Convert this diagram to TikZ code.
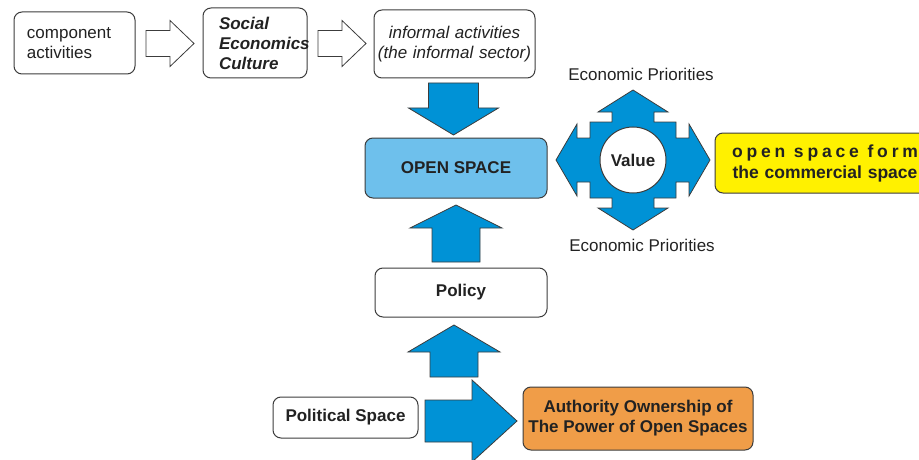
\documentclass[tikz,border=0pt]{standalone}
\usepackage{fontspec}
\setmainfont{Liberation Sans}
\usetikzlibrary{
    positioning,
    calc
}
\definecolor{arrowblue}{RGB}{0,146,214}
\definecolor{openblue}{RGB}{110,192,236}
\definecolor{boxyellow}{RGB}{255,241,0}
\definecolor{boxorange}{RGB}{240,157,72}
\definecolor{edgegray}{RGB}{60,60,60}
\definecolor{textgray}{RGB}{34,34,34}
\tikzset{%
    box/.style={%
        rectangle,
        draw=edgegray,
        line width=1pt,
        rounded corners=8pt,
        fill=white,
        text=textgray,
        inner ysep=0pt,
        outer sep=0pt,
        font=\fontsize{17}{20}\selectfont
    },
    bold box/.style={%
        box,
        font=\bfseries\fontsize{17}{20}\selectfont
    },
    hollow arrow/.style={%
        draw=edgegray,
        fill=white,
        line width=0.8pt
    },
    fat arrow/.style={%
        draw=edgegray,
        fill=arrowblue,
        line width=0.8pt
    },
    caption/.style={%
        text=textgray,
        font=\fontsize{17}{20}\selectfont
    },
}

\begin{document}
\begin{tikzpicture}[x=1pt, y=-1pt]
    \useasboundingbox (0,0) rectangle (919,460);

    % top row
    \node[box, text width=95pt, inner xsep=13pt, minimum height=62pt, align=left] (comp) at (74.5,43) {component\\activities};
    \node[bold box, text width=72pt, inner xsep=16pt, minimum height=70pt, align=left, font=\bfseries\itshape\fontsize{17}{20}\selectfont] (soc) at (255,43) {Social\\Economics\\Culture};
    \node[box, text width=155pt, inner xsep=3pt, minimum height=68pt, align=center, font=\itshape\fontsize{17}{20}\selectfont] (inf) at (454.5,44) {informal activities\\(the informal sector)};

    \draw[hollow arrow] (comp.east) ++(11,-12.5) -- ++(24,0) -- ++(0,-10) -- ++(24,23) -- ++(-24,23) -- ++(0,-10) -- ++(-24,0) -- cycle;
    \draw[hollow arrow] (soc.east) ++(11,-12.5) -- ++(24,0) -- ++(0,-10) -- ++(24,23) -- ++(-24,23) -- ++(0,-10) -- ++(-24,0) -- cycle;

    % centre column
    \node[bold box, fill=openblue, minimum width=182pt, minimum height=60pt] (open) at (456,168) {OPEN SPACE};
    \node[bold box, minimum width=172pt, minimum height=49pt] (policy) at (461,292.5) {Policy};
    \node[bold box, minimum width=145pt, minimum height=41pt] (polit) at (345.5,417.5) {Political Space};
    \node[bold box, fill=boxorange, minimum width=230pt, minimum height=63pt, align=center] (auth) at (638,418.5) {Authority Ownership of\\The Power of Open Spaces};

    \draw[fat arrow] (inf.south) ++(-26,5) -- ++(50,0) -- ++(0,25) -- ++(20,0) -- ++(-45,27) -- ++(-45,-27) -- ++(20,0) -- cycle;
    \draw[fat arrow] (open.south) ++(-24,64) -- ++(48,0) -- ++(0,-34) -- ++(22,0) -- ++(-46,-23) -- ++(-46,23) -- ++(22,0) -- cycle;
    \draw[fat arrow] (policy.south) ++(-31,60) -- ++(48,0) -- ++(0,-25) -- ++(22,0) -- ++(-46,-27) -- ++(-46,27) -- ++(22,0) -- cycle;
    \draw[fat arrow] (polit.east) ++(7,-17.5) -- ++(47,0) -- ++(0,-20) -- ++(45,41) -- ++(-45,41) -- ++(0,-20) -- ++(-47,0) -- cycle;

    % value cross
    \coordinate (vc) at (633,160);
    \draw[fat arrow, shift={(vc)}]
        (0,-70) -- (35,-48) -- (21,-48) -- (21,-38) -- (43,-38) -- (43,-22) -- (56,-22) -- (56,-36)
        -- (77,0) -- (56,36) -- (56,22) -- (43,22) -- (43,38) -- (21,38) -- (21,48) -- (35,48)
        -- (0,70) -- (-35,48) -- (-21,48) -- (-21,38) -- (-43,38) -- (-43,22) -- (-56,22) -- (-56,36)
        -- (-77,0) -- (-56,-36) -- (-56,-22) -- (-43,-22) -- (-43,-38) -- (-21,-38) -- (-21,-48) -- (-35,-48) -- cycle;
    \node[bold box, circle, rounded corners=0pt, minimum size=66pt, inner sep=0pt] (val) at (vc) {Value};

    \node[caption] (ecotop) at (641,74) {Economic Priorities};
    \node[caption] (ecobot) at (642,245) {Economic Priorities};

    \node[bold box, fill=boxyellow, anchor=west, text width=190pt, inner xsep=15pt, minimum height=60pt, align=center, font=\bfseries\fontsize{17.5}{21}\selectfont] (comm) at (715,163) {\makebox[186pt]{\addfontfeature{LetterSpace=22}open \hfill space \hfill form}\\the commercial space};
\end{tikzpicture}
\end{document}
